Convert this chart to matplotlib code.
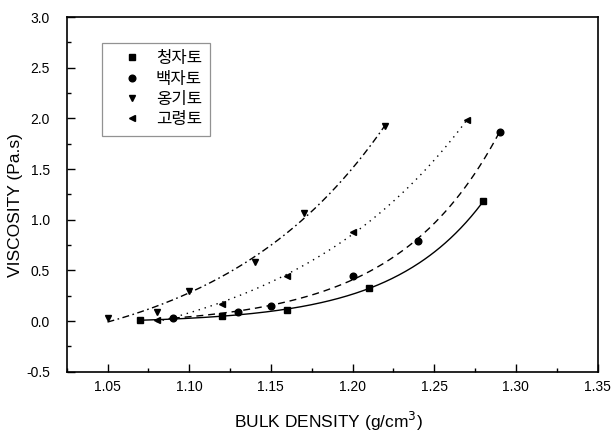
import matplotlib
matplotlib.use('Agg')
import matplotlib.pyplot as plt
from matplotlib.ticker import MultipleLocator
import numpy as np

plt.rcParams['font.family'] = ['Liberation Sans', 'Noto Sans CJK KR']

# 데이터
names = ['청자토', '백자토', '옹기토', '고령토']
x_cj = [1.07, 1.12, 1.16, 1.21, 1.28]
y_cj = [0.01, 0.05, 0.11, 0.325, 1.18]
x_bj = [1.09, 1.13, 1.15, 1.20, 1.24, 1.29]
y_bj = [0.03, 0.09, 0.15, 0.44, 0.79, 1.87]
x_og = [1.05, 1.08, 1.10, 1.14, 1.17, 1.22]
y_og = [0.03, 0.09, 0.30, 0.58, 1.07, 1.92]
x_gr = [1.08, 1.12, 1.16, 1.20, 1.27]
y_gr = [0.01, 0.17, 0.44, 0.88, 1.98]

x_ticks = [1.05, 1.10, 1.15, 1.20, 1.25, 1.30, 1.35]
y_ticks = [-0.5, 0.0, 0.5, 1.0, 1.5, 2.0, 2.5, 3.0]


def exp_fit(x, y):
    # y = y0 + A*exp(b*x), b 를 격자로 찾고 y0, A 는 최소자승
    x = np.asarray(x)
    y = np.asarray(y)
    best = None
    for b in np.linspace(5, 80, 751):
        M = np.column_stack([np.ones_like(x), np.exp(b * (x - x[0]))])
        coef, _, _, _ = np.linalg.lstsq(M, y, rcond=None)
        r = np.sum((M @ coef - y) ** 2)
        if best is None or r < best[0]:
            best = (r, b, coef)
    _, b, coef = best
    xs = np.linspace(x[0], x[-1], 200)
    return xs, coef[0] + coef[1] * np.exp(b * (xs - x[0]))


fig = plt.figure(figsize=(6.13, 4.32), dpi=100)
ax = fig.add_axes([0.1088, 0.1396, 0.866, 0.821])

series = [(x_cj, y_cj, 's', '-', 4.3),
          (x_bj, y_bj, 'o', (0, (5, 3.5)), 4.8),
          (x_og, y_og, 'v', (0, (5, 2.5, 1.2, 2.5)), 5),
          (x_gr, y_gr, '<', (0, (1, 3.5)), 5)]

for name, (xv, yv, m, ls, ms) in zip(names, series):
    xs, ys = exp_fit(xv, yv)
    ax.plot(xs, ys, color='black', lw=1.0, linestyle=ls)
    ax.plot(xv, yv, linestyle='none', marker=m, color='black', markersize=ms, label=name)

ax.set_xlim(1.025, 1.35)
ax.set_ylim(-0.5, 3.0)
ax.set_xticks(x_ticks)
ax.set_xticklabels(['%.2f' % v for v in x_ticks])
ax.set_yticks(y_ticks)
ax.set_yticklabels(['%.1f' % v for v in y_ticks])
ax.xaxis.set_minor_locator(MultipleLocator(0.025))
ax.yaxis.set_minor_locator(MultipleLocator(0.25))

ax.tick_params(which='both', direction='in', top=False, right=False, labelsize=10)
ax.tick_params(axis='x', pad=6)
ax.tick_params(axis='y', pad=12)
ax.tick_params(which='major', length=5.5, width=1)
ax.tick_params(which='minor', length=3, width=1)
for s in ax.spines.values():
    s.set_linewidth(1.2)

ax.set_xlabel('BULK DENSITY (g/cm$^3$)', fontsize=12.5, va='center')
ax.xaxis.set_label_coords(0.494, -0.139)
ax.set_ylabel('VISCOSITY (Pa.s)', fontsize=12.5, va='center')
ax.yaxis.set_label_coords(-0.096, 0.47)

leg = ax.legend(loc='upper left', bbox_to_anchor=(0.0674, 0.927), fontsize=12,
                frameon=True, fancybox=False, borderaxespad=0, handletextpad=0.15,
                labelspacing=0.32, handlelength=2.55, borderpad=0.5)
leg.get_frame().set_edgecolor('#777777')
leg.get_frame().set_linewidth(0.9)

fig.savefig('out.png', dpi=100)
